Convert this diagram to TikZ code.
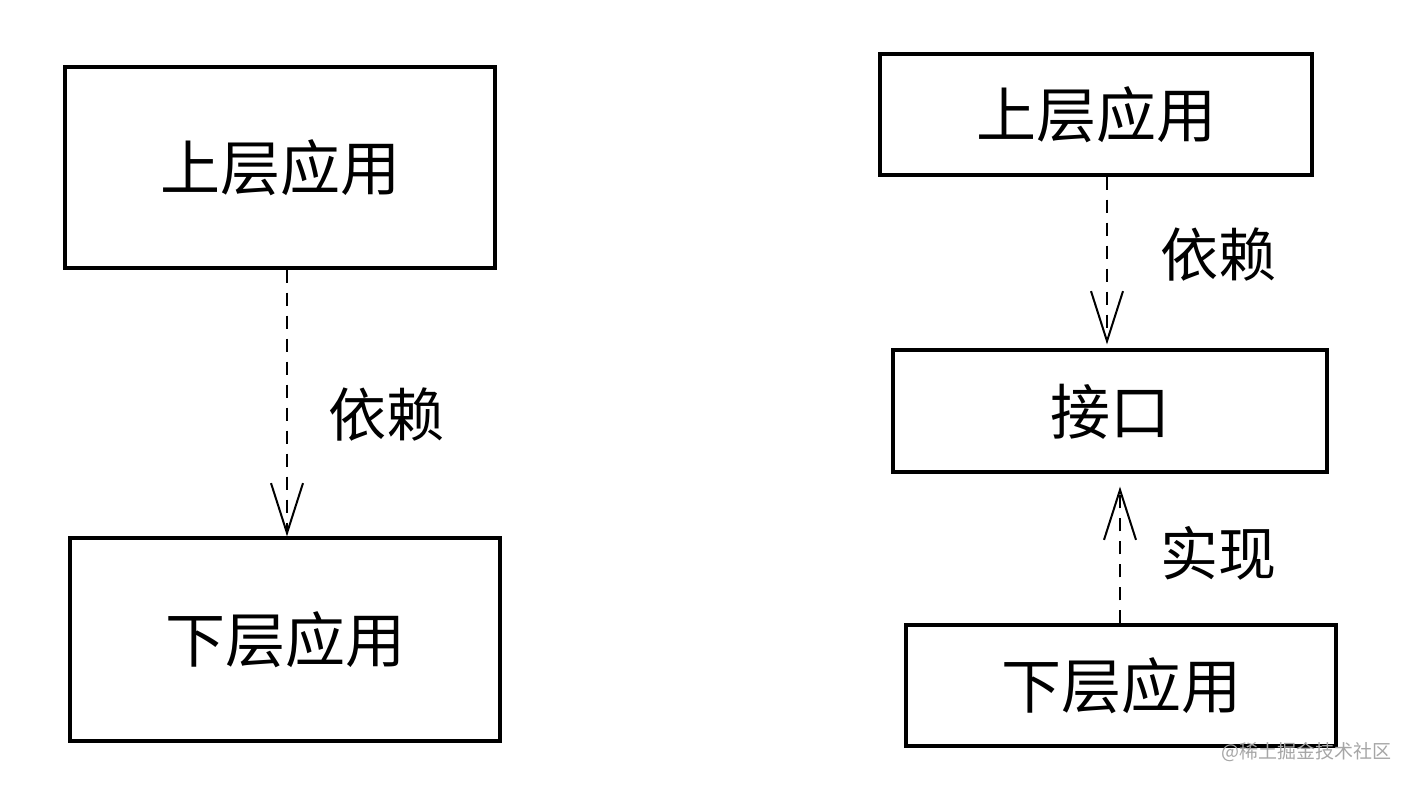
\documentclass[tikz,border=0pt]{standalone}
\usepackage{fontspec}
\newfontfamily\cjk{Noto Sans CJK SC}
\usetikzlibrary{arrows.meta}
\begin{document}
\begin{tikzpicture}[x=0.5pt,y=-0.5pt,
  boxst/.style={draw=black,line width=1.6pt,inner sep=0pt,font=\cjk\fontsize{30}{34}\selectfont},
  lbl/.style={font=\cjk\fontsize{29}{33}\selectfont,inner sep=0pt},
  dep/.style={draw=black,line width=1pt,dash pattern=on 6.5pt off 5pt,-{Straight Barb[length=25pt,width=16pt,line width=1pt]}},
  wm/.style={font=\cjk\fontsize{9.5}{11}\selectfont,text=black!35,inner sep=0pt}]
\useasboundingbox (0,0) rectangle (1408,786);
% left
\node[boxst,minimum width=215pt,minimum height=100.5pt,text depth=2pt] (lt) at (280,167.5) {上层应用};
\node[boxst,minimum width=215pt,minimum height=101.5pt,text depth=2pt] (lb) at (285,639.5) {下层应用};
\draw[dep] (lt.south) ++(7,0) coordinate (la) -- (la |- lb.north);
\node[lbl] (l1) at (386,415) {依赖};
% right
\node[boxst,minimum width=216pt,minimum height=60.5pt,text depth=2pt] (rt) at (1096,114.5) {上层应用};
\node[boxst,minimum width=217pt,minimum height=61pt,text depth=2pt] (ri) at (1110,411) {接口};
\node[boxst,minimum width=215pt,minimum height=60.5pt,text depth=2pt] (rb) at (1121,685.5) {下层应用};
\coordinate (rtip) at ([yshift=2pt]ri.north);
\coordinate (btip) at ([yshift=-6.5pt]ri.south);
\draw[dep] (rt.south) ++(11,0) coordinate (ra) -- (ra |- rtip);
\node[lbl] (r1) at (1218,255) {依赖};
\draw[dep] (rb.north) ++(-1,0) coordinate (rc) -- (rc |- btip);
\node[lbl] (r2) at (1218,553) {实现};
\node[wm] (w) at (1306,752) {@稀土掘金技术社区};
\end{tikzpicture}
\end{document}
